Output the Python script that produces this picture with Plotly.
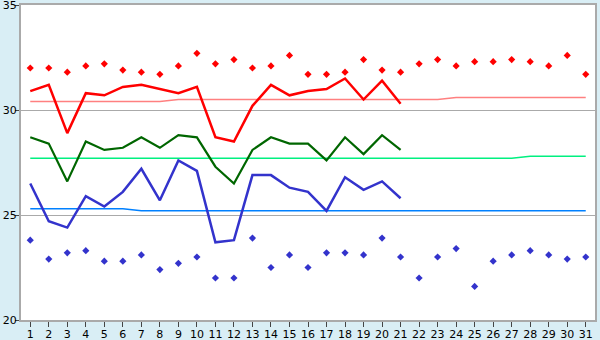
import plotly.graph_objects as go

days = list(range(1, 32))
obs_days = list(range(1, 22))
y_ticks = [20, 25, 30, 35]

max_temp = [30.9, 31.2, 28.9, 30.8, 30.7, 31.1, 31.2, 31.0, 30.8, 31.1,
            28.7, 28.5, 30.2, 31.2, 30.7, 30.9, 31.0, 31.5, 30.5, 31.4, 30.3]
mean_temp = [28.7, 28.4, 26.6, 28.5, 28.1, 28.2, 28.7, 28.2, 28.8, 28.7,
             27.3, 26.5, 28.1, 28.7, 28.4, 28.4, 27.6, 28.7, 27.9, 28.8, 28.1]
min_temp = [26.5, 24.7, 24.4, 25.9, 25.4, 26.1, 27.2, 25.7, 27.6, 27.1,
            23.7, 23.8, 26.9, 26.9, 26.3, 26.1, 25.2, 26.8, 26.2, 26.6, 25.8]

record_high = [32.0, 32.0, 31.8, 32.1, 32.2, 31.9, 31.8, 31.7, 32.1, 32.7,
               32.2, 32.4, 32.0, 32.1, 32.6, 31.7, 31.7, 31.8, 32.4, 31.9,
               31.8, 32.2, 32.4, 32.1, 32.3, 32.3, 32.4, 32.3, 32.1, 32.6, 31.7]
record_low = [23.8, 22.9, 23.2, 23.3, 22.8, 22.8, 23.1, 22.4, 22.7, 23.0,
              22.0, 22.0, 23.9, 22.5, 23.1, 22.5, 23.2, 23.2, 23.1, 23.9,
              23.0, 22.0, 23.0, 23.4, 21.6, 22.8, 23.1, 23.3, 23.1, 22.9, 23.0]

normal_max = [30.4] * 8 + [30.5] * 15 + [30.6] * 8
normal_mean = [27.7] * 27 + [27.8] * 4
normal_min = [25.3] * 6 + [25.2] * 25

fig = go.Figure()

def line(x, y, color, width):
    fig.add_trace(go.Scatter(x=x, y=y, mode="lines",
                             line=dict(color=color, width=width),
                             hoverinfo="skip", showlegend=False))

line(days, normal_max, "#FF8080", 1.5)
line(days, normal_mean, "#00F080", 1.5)
line(days, normal_min, "#0080FF", 1.5)
line(obs_days, max_temp, "#FF0000", 2.5)
line(obs_days, mean_temp, "#006600", 2.2)
line(obs_days, min_temp, "#3333CC", 2.5)

fig.add_trace(go.Scatter(x=days, y=record_high, mode="markers",
                         marker=dict(symbol="diamond", size=5.5, color="#FF0000"),
                         showlegend=False))
fig.add_trace(go.Scatter(x=days, y=record_low, mode="markers",
                         marker=dict(symbol="diamond", size=5.5, color="#3333CC"),
                         showlegend=False))

axis_font = dict(family="DejaVu Sans", size=11, color="#000000")

fig.update_layout(
    width=600, height=340,
    margin=dict(l=21, r=5, t=5, b=20, autoexpand=False),
    paper_bgcolor="#D9EEF5",
    plot_bgcolor="#FFFFFF",
    showlegend=False,
    xaxis=dict(range=[0.5, 31.5], tickmode="array", tickvals=days,
               ticktext=[str(d) for d in days], automargin=False,
               showgrid=False, zeroline=False,
               showline=True, linecolor="#AAAAAA", linewidth=2, mirror=True,
               ticks="outside", ticklen=3, tickcolor="rgba(0,0,0,0)",
               ticklabelstandoff=0, ticklabeloverflow="allow",
               minor=dict(tickmode="array", tickvals=days, ticks="outside",
                          ticklen=5, tickcolor="#444444", tickwidth=1,
                          showgrid=False),
               tickfont=axis_font),
    yaxis=dict(range=[20, 35], tickmode="array", tickvals=y_ticks,
               automargin=False,
               showgrid=True, gridcolor="#AAAAAA", gridwidth=1, zeroline=False,
               showline=True, linecolor="#AAAAAA", linewidth=2, mirror=True,
               ticks="outside", ticklen=0, tickcolor="rgba(0,0,0,0)",
               ticklabelstandoff=0, ticklabeloverflow="allow",
               minor=dict(tickmode="array", tickvals=y_ticks, ticks="outside",
                          ticklen=4, tickcolor="#444444", tickwidth=1,
                          showgrid=False),
               tickfont=axis_font),
)

fig.write_html("out.html")
